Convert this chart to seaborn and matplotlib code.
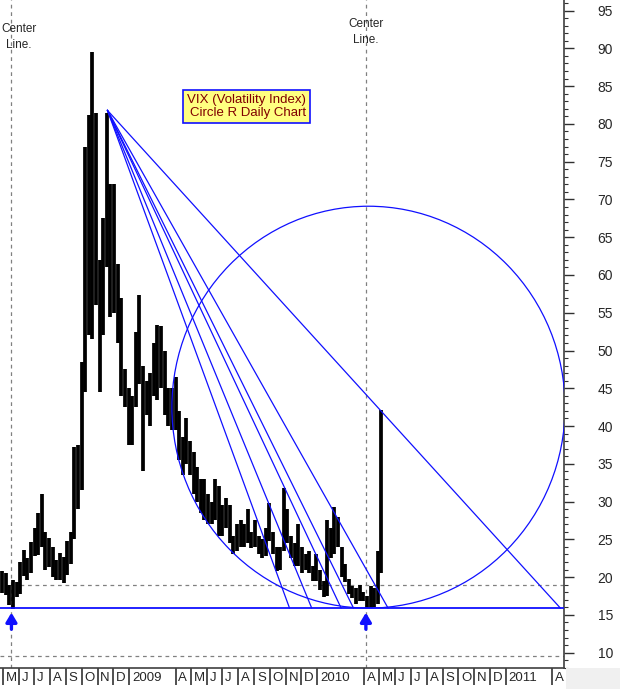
import matplotlib
matplotlib.use("Agg")
import matplotlib.pyplot as plt
import matplotlib.dates as mdates
import matplotlib.transforms as mtransforms
from matplotlib.patches import Ellipse, Rectangle
from matplotlib.ticker import MultipleLocator
import numpy as np
import pandas as pd
import seaborn as sns

# weekly VIX high / low, weeks starting Mon 28 Apr 2008
high_2008 = [20.8, 20.5, 18.9, 19.6, 19.4, 22.0, 23.6, 22.5, 24.6, 26.5, 28.5, 31.0,
             26.0, 25.2, 24.0, 22.3, 23.2, 22.6, 24.8, 26.0, 37.2, 37.5, 48.5, 76.9,
             81.2, 89.5, 81.5, 62.0, 67.5, 81.5, 72.0, 72.0, 61.5, 57.0, 47.5, 45.0]
low_2008 = [17.9, 17.6, 16.3, 15.8, 17.4, 17.8, 20.2, 19.6, 20.6, 22.8, 22.9, 24.0,
            21.0, 21.3, 20.0, 19.6, 19.6, 19.2, 20.3, 21.7, 25.0, 29.0, 31.5, 44.5,
            52.0, 51.5, 56.0, 44.5, 52.0, 61.0, 54.5, 55.0, 51.0, 44.0, 42.5, 37.5]
high_2009 = [44.0, 52.5, 57.4, 48.0, 46.0, 47.0, 51.0, 53.4, 53.2, 50.0, 45.0, 45.0,
             46.5, 42.0, 38.5, 41.0, 38.0, 36.5, 34.6, 33.0, 33.0, 31.0, 30.0, 33.0,
             32.0, 29.5, 30.5, 29.5, 25.5, 27.0, 27.5, 27.0, 29.0, 26.0, 27.5, 25.5,
             25.0, 26.5, 29.8, 26.0, 24.0, 24.0, 31.8, 29.0, 25.5, 24.5, 27.0, 24.0,
             23.0, 23.5, 21.5, 23.0]
low_2009 = [37.5, 42.5, 45.5, 34.0, 41.5, 40.0, 44.0, 43.5, 45.0, 41.5, 40.0, 39.5,
            39.5, 35.5, 33.5, 35.0, 33.5, 31.0, 30.0, 28.5, 27.5, 27.0, 27.0, 27.5,
            25.5, 25.5, 26.5, 24.5, 23.0, 23.5, 24.0, 24.0, 24.5, 23.8, 24.0, 23.0,
            22.5, 22.8, 24.8, 23.0, 20.8, 21.0, 23.5, 24.5, 22.5, 21.5, 21.5, 20.5,
            21.0, 20.5, 19.5, 19.5]
high_2010 = [21.0, 19.5, 27.5, 26.5, 29.3, 28.0, 24.0, 21.8, 19.8, 18.8, 18.5, 19.0,
             18.0, 17.5, 18.8, 18.5, 23.5, 42.1]
low_2010 = [18.3, 17.4, 17.5, 22.5, 23.0, 24.0, 20.0, 19.4, 17.8, 17.2, 16.5, 16.8,
            16.8, 15.9, 15.9, 16.0, 16.5, 20.5]

vix_high = high_2008 + high_2009 + high_2010
vix_low = low_2008 + low_2009 + low_2010

# fan / circle construction
apex_date, apex_value = "2008-11-20", 81.8
base_value = 15.9
fan_ends = ["2009-11-08", "2009-12-21", "2010-02-16", "2010-03-12", "2010-05-18", "2011-04-17"]
center_dates = ["2008-05-18", "2010-04-05"]
circle_center = ("2010-04-10", 42.5)
circle_size = (762, 53.2)   # days, VIX points

month_ticks = [d for d in pd.date_range("2008-05-01", "2011-04-01", freq="MS") if d.month not in (2, 3)]
month_labels = [str(d.year) if d.month == 1 else d.strftime("%b")[0] for d in month_ticks]

BLUE = "#1010ff"
GRAY = "#808080"

sns.set_style("white")
plt.rcParams["font.family"] = ["Liberation Sans", "DejaVu Sans"]

fig = plt.figure(figsize=(6.2, 6.89), dpi=100)
fig.patches.append(Rectangle((566 / 620, 0), 1, 21 / 689, transform=fig.transFigure,
                             facecolor="#f0f0f0", edgecolor="none", zorder=0))
ax = fig.add_axes([0, 21 / 689, 564 / 620, 668 / 689])

# price bars (one vertical bar per week, low to high)
weeks = pd.date_range("2008-04-28", periods=len(vix_high), freq="W-MON") + pd.Timedelta(days=2)
bars = pd.DataFrame({
    "date": np.repeat(weeks, 2),
    "vix": np.ravel(np.column_stack([vix_low, vix_high])),
    "week": np.repeat(np.arange(len(weeks)), 2),
})
sns.lineplot(data=bars, x="date", y="vix", units="week", estimator=None, color="black",
             lw=2.7, solid_capstyle="butt", ax=ax, legend=False, zorder=3)

# reference lines
x0 = mdates.date2num(pd.Timestamp("2008-04-25 20:00"))
x1 = mdates.date2num(pd.Timestamp("2011-04-24"))
ax.hlines(19.0, mdates.date2num(pd.Timestamp("2008-06-03")), x1, color=GRAY, lw=0.9, ls=(0, (3, 3)), zorder=1)
ax.hlines(9.6, x0, x1, color=GRAY, lw=0.9, ls=(0, (3, 3)), zorder=1)
for d in center_dates:
    ax.axvline(pd.Timestamp(d), color=GRAY, lw=0.9, ls=(0, (3, 3)), zorder=1)
ax.axhline(base_value, color=BLUE, lw=1.3, zorder=4)

for e in fan_ends:
    ax.plot([pd.Timestamp(apex_date), pd.Timestamp(e)], [apex_value, base_value], color=BLUE, lw=0.9, zorder=4)

ax.add_patch(Ellipse((mdates.date2num(pd.Timestamp(circle_center[0])), circle_center[1]),
                     circle_size[0], circle_size[1], fill=False, edgecolor=BLUE, lw=0.9, zorder=4))

for d in center_dates:
    ax.annotate("", xy=(pd.Timestamp(d), 15.3), xytext=(pd.Timestamp(d), 13.1),
                arrowprops=dict(arrowstyle="-|>,head_width=0.27,head_length=0.45", color=BLUE,
                                lw=2.4, mutation_scale=12, shrinkA=0, shrinkB=0), zorder=5)

ax.text(pd.Timestamp("2008-06-01"), 91.5, "Center\nLine.", ha="center", va="center", fontsize=8.5, linespacing=1.4)
ax.text(pd.Timestamp("2010-04-05"), 92.2, "Center\nLine.", ha="center", va="center", fontsize=8.5, linespacing=1.4)
ax.text(pd.Timestamp("2009-08-17"), 82.3, "VIX (Volatility Index)\nCircle R Daily Chart", ha="center", va="center",
        multialignment="right", fontsize=9.5, color="#800000", linespacing=1.15,
        bbox=dict(boxstyle="square,pad=0.3", facecolor="#ffff80", edgecolor=BLUE, lw=1.2), zorder=6)

# axes
ax.set_xlim(x0, x1)
ax.set_ylim(7.97, 96.4)
ax.set_xlabel("")
ax.set_ylabel("")
ax.yaxis.tick_right()
ax.set_yticks(range(10, 100, 5))
ax.yaxis.set_minor_locator(MultipleLocator(1))
ax.tick_params(axis="y", which="major", direction="out", length=7.2, width=1, color="#303030",
               pad=17, labelsize=10, right=True, left=False)
ax.tick_params(axis="y", which="minor", direction="out", length=3, width=0.8, color="#303030",
               right=True, left=False)
ax.set_xticks(month_ticks)
ax.set_xticklabels(month_labels)
ax.tick_params(axis="x", which="major", direction="out", length=12.2, width=1.1, color="#202020",
               pad=-9.6, labelsize=9.5, bottom=True)
offset = mtransforms.ScaledTranslation(2 / 72, 0, fig.dpi_scale_trans)
for lbl in ax.get_xticklabels():
    lbl.set_horizontalalignment("left")
    lbl.set_transform(lbl.get_transform() + offset)

for side in ("left", "top"):
    ax.spines[side].set_visible(False)
for side in ("right", "bottom"):
    ax.spines[side].set_color("#404040")
    ax.spines[side].set_linewidth(1.2)

fig.savefig("out.png", dpi=100)
